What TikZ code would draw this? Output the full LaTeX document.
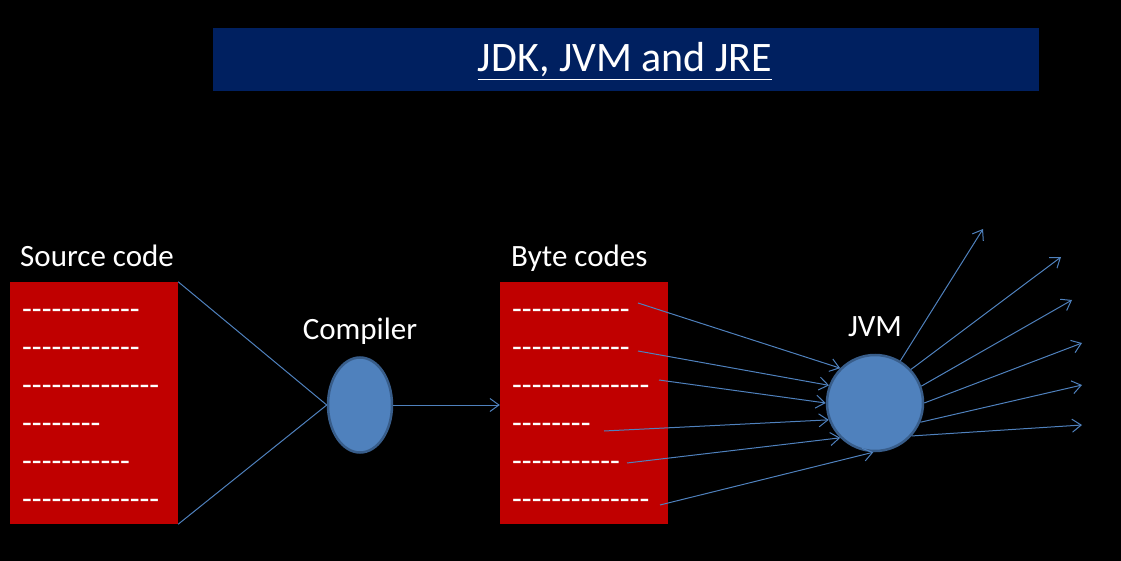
\documentclass[tikz,border=0pt]{standalone}
\usepackage{fontspec}
\setmainfont{Carlito}[Ligatures=TeXOff]
\usetikzlibrary{shapes.geometric, arrows.meta}

\definecolor{banner}{HTML}{002060}
\definecolor{codered}{HTML}{C00000}
\definecolor{jblue}{HTML}{4F81BD}
\definecolor{jedge}{HTML}{385D8A}

\newcommand{\fsz}[1]{\fontsize{#1}{#1}\selectfont}

\begin{document}
\begin{tikzpicture}
                \tikzset{x=1pt, y=-1pt, >={Straight Barb[length=9pt, width=13pt]}}
                \tikzstyle{lbl}=[anchor=base west, inner sep=0pt, text=white, font=\fsz{31}]
                \tikzstyle{code}=[rectangle, fill=codered, minimum width=168pt, minimum height=242pt, inner sep=0pt]
                \tikzstyle{row}=[anchor=base west, inner sep=0pt, text=white, font=\fsz{32}]
                \tikzstyle{blob}=[fill=jblue, draw=jedge, line width=2.5pt, inner sep=0pt]
                \tikzstyle{link}=[draw=jblue, line width=1pt]

                \fill[black] (0,0) rectangle (1121,561);

                \draw (626,59.5)    node[rectangle, fill=banner, minimum width=826pt, minimum height=63pt] (head) {};
                \draw (625,72)      node[anchor=base, inner sep=0pt, text=white, font=\fsz{42}] (title) {\underline{JDK, JVM and JRE}};

                \draw (20,267)      node[lbl]   (srclbl)    {Source code};
                \draw (511,267)     node[lbl]   (bytelbl)   {Byte codes};
                \draw (360,339)     node[lbl, anchor=base]  (complbl)   {Compiler};
                \draw (875,336)     node[lbl, anchor=base]  (jvmlbl)    {JVM};

                \draw (94,403)      node[code]  (src)   {};
                \draw (584,403)     node[code]  (byte)  {};

                % the code lines
                \foreach \s [count=\i] in {------------, ------------, --------------, --------, -----------, --------------} {
                    \draw (22,281+38*\i)    node[row]   (srow\i)    {\s};
                    \draw (512,281+38*\i)   node[row]   (brow\i)    {\s};
                }

                \draw (360,405)     node[blob, ellipse, minimum width=64pt, minimum height=95pt] (comp) {};
                \draw (875,403)     node[blob, circle, minimum size=96pt] (jvm) {};

                \draw [link]        (src.north east) -- (comp.west);
                \draw [link]        (src.south east) -- (comp.west);
                \draw [link, ->]    (comp.east) -- (comp.east -| byte.west);

                \draw (638,303) coordinate (b1);
                \draw (638,351) coordinate (b2);
                \draw (659,380) coordinate (b3);
                \draw (604,431) coordinate (b4);
                \draw (627,463) coordinate (b5);
                \draw (660,505) coordinate (b6);

                \draw [link, ->]    (b1) -- (jvm.135);
                \draw [link, ->]    (b2) -- (jvm.159);
                \draw [link, ->]    (b3) -- (jvm.180);
                \draw [link, ->]    (b4) -- (jvm.200);
                \draw [link, ->]    (b5) -- (jvm.225);
                \draw [link, ->]    (b6) -- (jvm.268);

                \draw (983,229)  coordinate (o1);
                \draw (1061,257) coordinate (o2);
                \draw (1072,300) coordinate (o3);
                \draw (1082,343) coordinate (o4);
                \draw (1082,385) coordinate (o5);
                \draw (1082,425) coordinate (o6);

                \draw [link, ->]    (jvm.59) -- (o1);
                \draw [link, ->]    (jvm.43) -- (o2);
                \draw [link, ->]    (jvm.20) -- (o3);
                \draw [link, ->]    (jvm.0) -- (o4);
                \draw [link, ->]    (jvm.-23) -- (o5);
                \draw [link, ->]    (jvm.-42) -- (o6);
            \end{tikzpicture}
\end{document}
